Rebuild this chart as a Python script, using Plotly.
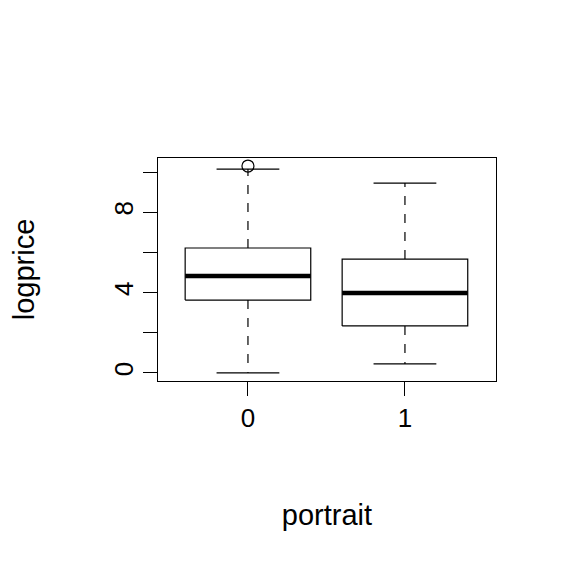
import plotly.graph_objects as go

# boxplot stats (logprice by portrait)
groups = [0, 1]
lower_whisker = [0.0, 0.45]
q1 = [3.63, 2.34]
median = [4.83, 3.98]
q3 = [6.22, 5.67]
upper_whisker = [10.15, 9.45]
outliers_x = [0]
outliers_y = [10.3]

half_box = 0.4
half_cap = 0.2

fig = go.Figure()
line = dict(color="black", width=1.2)

for i, g in enumerate(groups):
    # box outline
    fig.add_trace(go.Scatter(
        x=[g - half_box, g + half_box, g + half_box, g - half_box, g - half_box],
        y=[q1[i], q1[i], q3[i], q3[i], q1[i]],
        mode="lines", line=line, hoverinfo="skip"))
    # median
    fig.add_trace(go.Scatter(
        x=[g - half_box, g + half_box], y=[median[i], median[i]],
        mode="lines", line=dict(color="black", width=4.5), hoverinfo="skip"))
    # dashed whiskers
    for a, b in [(q3[i], upper_whisker[i]), (q1[i], lower_whisker[i])]:
        fig.add_trace(go.Scatter(
            x=[g, g], y=[a, b], mode="lines",
            line=dict(color="black", width=1.2, dash="dash"), hoverinfo="skip"))
    # caps
    for w in [upper_whisker[i], lower_whisker[i]]:
        fig.add_trace(go.Scatter(
            x=[g - half_cap, g + half_cap], y=[w, w],
            mode="lines", line=line, hoverinfo="skip"))

fig.add_trace(go.Scatter(
    x=outliers_x, y=outliers_y, mode="markers",
    marker=dict(symbol="circle-open", size=12, color="black", line=dict(width=1.2))))

font = dict(family="Liberation Sans, Arial, sans-serif", size=24, color="black")
tickfont = dict(family="Liberation Sans, Arial, sans-serif", size=26, color="black")

fig.update_layout(
    width=576, height=576,
    margin=dict(l=150, r=88, t=150, b=203),
    paper_bgcolor="white", plot_bgcolor="white",
    showlegend=False, font=font,
    xaxis=dict(
        range=[-0.573, 1.58], tickvals=groups, ticktext=[str(g) for g in groups],
        ticks="outside", ticklen=14, tickwidth=1.2, tickcolor="black",
        tickfont=tickfont, automargin=False,
        showline=True, linecolor="black", linewidth=1.2, mirror=True,
        showgrid=False, zeroline=False,
        title=dict(text="portrait", standoff=72)),
    yaxis=dict(
        range=[-0.4, 10.7], tickvals=[0, 2, 4, 6, 8, 10],
        ticktext=["0", "", "4", "", "8", ""], tickangle=-90,
        ticks="outside", ticklen=14, tickwidth=1.2, tickcolor="black",
        tickfont=tickfont, automargin=False,
        showline=True, linecolor="black", linewidth=1.2, mirror=True,
        showgrid=False, zeroline=False,
        title=dict(text="logprice", standoff=68)),
)

fig.write_html("out.html")
